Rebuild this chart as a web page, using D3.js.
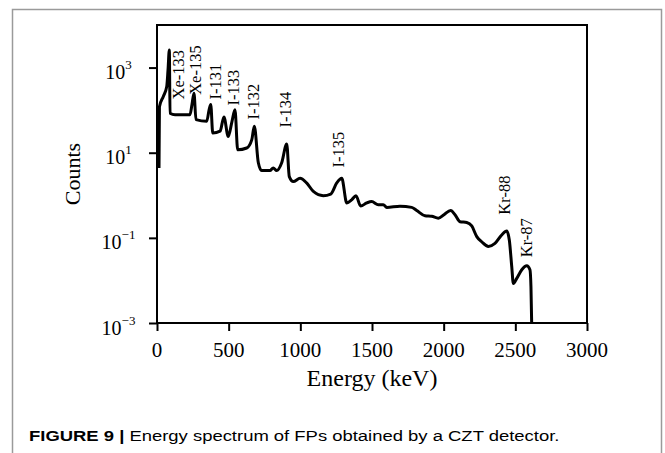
<!DOCTYPE html>
<html>
<head>
<meta charset="utf-8">
<script src="https://cdn.jsdelivr.net/npm/d3@7"></script>
<style>
body { margin: 0; background: #fff; }
</style>
</head>
<body>
<svg></svg>
<script>
// spectrum (keV, counts)
let energy = [14, 17, 44, 68, 77, 86, 91, 126, 230, 244, 258, 272, 347, 363, 375, 389, 440, 467, 497, 523,
    544, 563, 626, 661, 679, 707, 730, 788, 811, 835, 870, 905, 923, 951, 998, 1044, 1091, 1160, 1212, 1254,
    1289, 1324, 1358, 1388, 1421, 1463, 1498, 1544, 1579, 1603, 1695, 1777, 1812, 1870, 1917, 1963, 2002, 2049, 2079, 2114,
    2161, 2196, 2231, 2265, 2312, 2358, 2405, 2440, 2458, 2475, 2486, 2510, 2545, 2580, 2602, 2609, 2614]
let counts = [4.4, 120, 210, 360, 890, 2600, 85, 78, 78, 135, 250, 60, 55, 100, 135, 29, 32, 69, 24, 54,
    102, 11.7, 12.9, 20, 42, 5.8, 3.8, 3.8, 4.4, 3.8, 5.8, 16, 2.75, 2.1, 2.5, 1.95, 1.23, 0.98, 1.07, 1.95,
    2.5, 0.66, 0.78, 0.98, 0.56, 0.66, 0.71, 0.6, 0.6, 0.52, 0.55, 0.52, 0.44, 0.33, 0.32, 0.29, 0.35, 0.44, 0.35, 0.24,
    0.23, 0.19, 0.107, 0.081, 0.063, 0.074, 0.117, 0.145, 0.089, 0.021, 0.0085, 0.0112, 0.0178, 0.022, 0.0178, 0.0071, 0.001]

let peakNames = ['Xe-133', 'Xe-135', 'I-131', 'I-133', 'I-132', 'I-134', 'I-135', 'Kr-88', 'Kr-87']
let peakEnergy = [147, 265, 405, 530, 670, 893, 1263, 2421, 2574]
let peakLabelCounts = [178, 229, 178, 129, 60, 39, 4.5, 0.35, 0.035]

let xTicks = [0, 500, 1000, 1500, 2000, 2500, 3000]
let yTicks = [1e-3, 1e-1, 1e1, 1e3]
let yTickExp = ['\u22123', '\u22121', '1', '3']

let width = 665
let height = 453
let plotLeft = 157
let plotRight = 587
let plotTop = 25
let plotBottom = 323

let svg = d3.select('svg')
    .attr('width', width)
    .attr('height', height)

// outer figure border
svg.append('rect')
    .attr('x', 12.5)
    .attr('y', 9.5)
    .attr('width', 649)
    .attr('height', 460)
    .attr('fill', 'none')
    .attr('stroke', '#9a9a9a')
    .attr('stroke-width', 1.5)

let xScale = d3.scaleLinear().domain([0, 3000]).range([plotLeft, plotRight])
let yScale = d3.scaleLog().domain([1e-3, 1e4]).range([plotBottom, plotTop])

let serif = '"Liberation Serif", "Times New Roman", serif'

let xAxis = d3.axisBottom(xScale).tickValues(xTicks).tickSize(8).tickFormat('')
let yAxis = d3.axisLeft(yScale).tickValues(yTicks).tickSize(8).tickFormat('')

let gx = svg.append('g')
    .attr('transform', 'translate(0,' + plotBottom + ')')
    .call(xAxis)
gx.select('.domain').remove()
gx.selectAll('line').attr('stroke', '#000').attr('stroke-width', 2)

let gy = svg.append('g')
    .attr('transform', 'translate(' + plotLeft + ',0)')
    .call(yAxis)
gy.select('.domain').remove()
gy.selectAll('line').attr('stroke', '#000').attr('stroke-width', 2)

// x tick labels
svg.selectAll('.xlab')
    .data(xTicks)
    .enter()
    .append('text')
    .attr('class', 'xlab')
    .attr('x', d => xScale(d))
    .attr('y', plotBottom + 33.5)
    .attr('text-anchor', 'middle')
    .attr('font-family', serif)
    .attr('font-size', 21)
    .text(d => d)

// y tick labels 10^n
let ylab = svg.selectAll('.ylab')
    .data(yTicks)
    .enter()
    .append('text')
    .attr('class', 'ylab')
    .attr('x', 118.5)
    .attr('y', d => yScale(d) + 11.5)
    .attr('text-anchor', 'middle')
    .attr('font-family', serif)
    .attr('font-size', 20)
ylab.append('tspan').text('10')
ylab.append('tspan')
    .attr('font-size', 13)
    .attr('dy', -10)
    .text((d, i) => yTickExp[i])

// frame
svg.append('rect')
    .attr('x', plotLeft)
    .attr('y', plotTop)
    .attr('width', plotRight - plotLeft)
    .attr('height', plotBottom - plotTop)
    .attr('fill', 'none')
    .attr('stroke', '#000')
    .attr('stroke-width', 2)

// spectrum line
let points = energy.map((e, i) => [e, counts[i]])
let line = d3.line()
    .x(d => xScale(d[0]))
    .y(d => yScale(d[1]))
    .curve(d3.curveMonotoneX)

svg.append('path')
    .datum(points)
    .attr('d', line)
    .attr('fill', 'none')
    .attr('stroke', '#000')
    .attr('stroke-width', 3)
    .attr('stroke-linejoin', 'round')

// peak labels
svg.selectAll('.peak')
    .data(peakNames)
    .enter()
    .append('text')
    .attr('class', 'peak')
    .attr('transform', (d, i) => 'translate(' + xScale(peakEnergy[i]) + ',' + yScale(peakLabelCounts[i]) + ') rotate(-90)')
    .attr('dy', '0.35em')
    .attr('font-family', serif)
    .attr('font-size', 16.5)
    .text(d => d)

// axis titles
svg.append('text')
    .attr('x', (plotLeft + plotRight) / 2)
    .attr('y', 386)
    .attr('text-anchor', 'middle')
    .attr('font-family', serif)
    .attr('font-size', 24)
    .text('Energy (keV)')

svg.append('text')
    .attr('transform', 'translate(80,' + (plotTop + plotBottom) / 2 + ') rotate(-90)')
    .attr('text-anchor', 'middle')
    .attr('font-family', serif)
    .attr('font-size', 22)
    .text('Counts')

// caption, stretched sideways like the source figure
let capG = svg.append('g')
let cap = capG.append('text')
    .attr('font-family', '"Liberation Sans", Arial, sans-serif')
    .attr('font-size', 15)
cap.append('tspan').attr('font-weight', 'bold').text('FIGURE 9 | ')
cap.append('tspan').text('Energy spectrum of FPs obtained by a CZT detector.')
let capW = cap.node().getBBox().width
capG.attr('transform', 'translate(29,441) scale(' + (531 / capW) + ',1)')
</script>
</body>
</html>
